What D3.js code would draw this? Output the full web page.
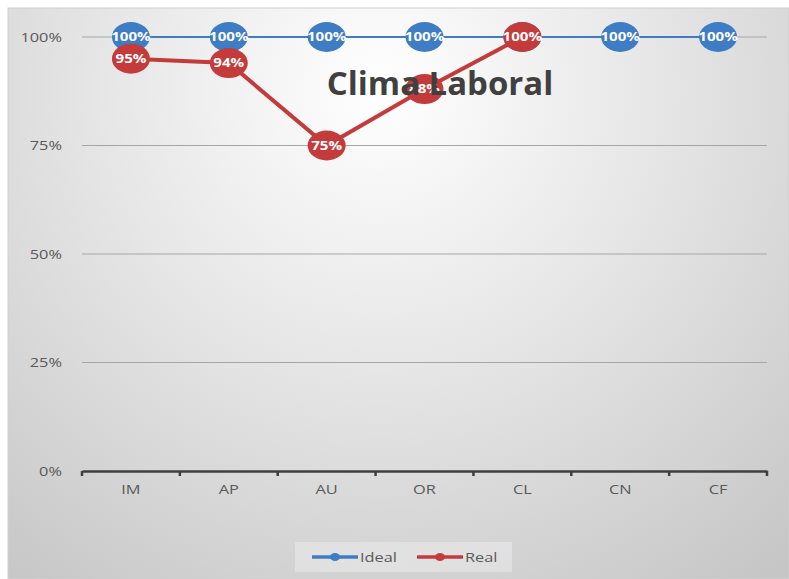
<!DOCTYPE html>
<html>
<head>
<meta charset="utf-8">
<script src="https://cdn.jsdelivr.net/npm/d3@7"></script>
<style>
  body { margin: 0; background: #fff; }
  svg { display: block; }
</style>
</head>
<body>
<div id="chart"></div>
<script>
const categories = ["IM", "AP", "AU", "OR", "CL", "CN", "CF"];
const ideal = [100, 100, 100, 100, 100, 100, 100];
const real = [95, 94, 75, 88, 100];
const yTicks = [0, 25, 50, 75, 100];

const width = 789, height = 579;
const margin = { top: 37, right: 22, bottom: 108, left: 82 };
const stretch = 1.26; // the original picture is wider than tall

const svg = d3.select("#chart")
    .append("svg")
    .attr("width", width)
    .attr("height", height);

// background gradient like the spreadsheet chart area
const defs = svg.append("defs");
const grad = defs.append("radialGradient")
    .attr("id", "bg")
    .attr("gradientUnits", "userSpaceOnUse")
    .attr("cx", 380).attr("cy", 90)
    .attr("r", 620);
grad.append("stop").attr("offset", "0%").attr("stop-color", "#ffffff");
grad.append("stop").attr("offset", "45%").attr("stop-color", "#e6e6e6");
grad.append("stop").attr("offset", "100%").attr("stop-color", "#c6c6c6");

svg.append("rect")
    .attr("x", 8).attr("y", 8)
    .attr("width", width - 8).attr("height", height - 8)
    .attr("fill", "url(#bg)")
    .attr("stroke", "#cfcfcf")
    .attr("stroke-width", 1);

const x = d3.scaleBand()
    .domain(categories)
    .range([margin.left, width - margin.right])
    .padding(0);

const y = d3.scaleLinear()
    .domain([0, 100])
    .range([height - margin.bottom, margin.top]);

const font = "'Open Sans', sans-serif";

// gridlines
svg.append("g")
    .selectAll("line")
    .data(yTicks.filter(d => d > 0))
    .enter()
    .append("line")
    .attr("x1", margin.left)
    .attr("x2", width - margin.right)
    .attr("y1", d => y(d))
    .attr("y2", d => y(d))
    .attr("stroke", "#a6a6a6")
    .attr("stroke-width", 1);

// y labels
svg.append("g")
    .selectAll("text")
    .data(yTicks)
    .enter()
    .append("text")
    .attr("transform", d => `translate(62,${y(d)}) scale(${stretch},1)`)
    .attr("dy", "0.35em")
    .attr("text-anchor", "end")
    .style("font-family", font)
    .style("font-size", "13px")
    .style("fill", "#595959")
    .text(d => d + "%");

// x axis
const xAxis = svg.append("g")
    .attr("transform", `translate(0,${y(0)})`)
    .call(d3.axisBottom(x).tickSize(0).tickPadding(14));
xAxis.select(".domain")
    .attr("stroke", "#3f3f3f")
    .attr("stroke-width", 2.5);
xAxis.selectAll(".tick text")
    .attr("transform", `scale(${stretch},1)`)
    .style("font-family", font)
    .style("font-size", "13px")
    .style("fill", "#595959");

const boundaries = categories.map(c => x(c)).concat([x.range()[1]]);
xAxis.selectAll(".bound")
    .data(boundaries)
    .enter()
    .append("line")
    .attr("class", "bound")
    .attr("x1", d => d).attr("x2", d => d)
    .attr("y1", 0).attr("y2", 5)
    .attr("stroke", "#3f3f3f")
    .attr("stroke-width", 2.5);

const cx = i => x(categories[i]) + x.bandwidth() / 2;

const series = [
    { name: "Ideal", values: ideal, color: "#3e7cc4", lineWidth: 2 },
    { name: "Real", values: real, color: "#c33b3b", lineWidth: 4 }
];

const line = d3.line()
    .x((d, i) => cx(i))
    .y(d => y(d));

series.forEach(s => {
    const g = svg.append("g");
    g.append("path")
        .datum(s.values)
        .attr("d", line)
        .attr("fill", "none")
        .attr("stroke", s.color)
        .attr("stroke-width", s.lineWidth);

    g.selectAll("ellipse")
        .data(s.values)
        .enter()
        .append("ellipse")
        .attr("cx", (d, i) => cx(i))
        .attr("cy", d => y(d))
        .attr("rx", 19)
        .attr("ry", 15)
        .attr("fill", s.color);

    g.selectAll("text")
        .data(s.values)
        .enter()
        .append("text")
        .attr("transform", (d, i) => `translate(${cx(i)},${y(d)}) scale(${stretch},1)`)
        .attr("dy", "0.36em")
        .attr("text-anchor", "middle")
        .style("font-family", font)
        .style("font-size", "12px")
        .style("font-weight", "bold")
        .style("fill", "#ffffff")
        .text(d => d + "%");
});

// title (drawn on top like the original)
svg.append("text")
    .attr("transform", "translate(440,95) scale(1.03,1)")
    .attr("text-anchor", "middle")
    .style("font-family", font)
    .style("font-size", "32px")
    .style("font-weight", "bold")
    .style("fill", "#404040")
    .text("Clima Laboral");

// legend
const legend = svg.append("g").attr("transform", "translate(295,542)");
legend.append("rect")
    .attr("width", 217)
    .attr("height", 30)
    .attr("fill", "#ffffff")
    .attr("fill-opacity", 0.3);

const itemX = [17, 122];
series.forEach((s, i) => {
    const row = legend.append("g").attr("transform", `translate(${itemX[i]},15)`);
    row.append("line")
        .attr("x1", 0).attr("x2", 46)
        .attr("stroke", s.color)
        .attr("stroke-width", 3.5);
    row.append("ellipse")
        .attr("cx", 23)
        .attr("rx", 5)
        .attr("ry", 4)
        .attr("fill", s.color);
    row.append("text")
        .attr("transform", `translate(48,0) scale(${stretch},1)`)
        .attr("dy", "0.35em")
        .style("font-family", font)
        .style("font-size", "13px")
        .style("fill", "#595959")
        .text(s.name);
});
</script>
</body>
</html>
